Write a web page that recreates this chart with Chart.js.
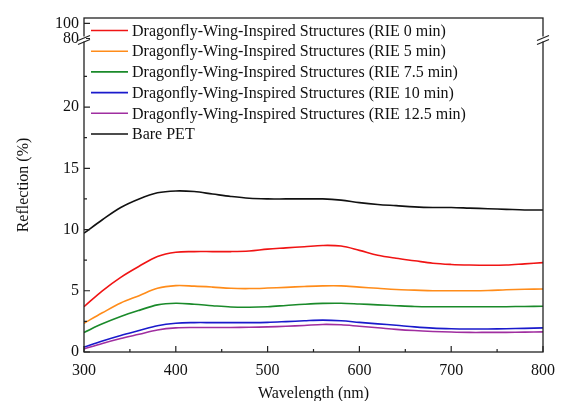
<!DOCTYPE html>
<html lang="en">
<head>
    <meta charset="UTF-8">
    <title>Reflection spectra</title>
    <script src="https://cdn.jsdelivr.net/npm/chart.js"></script>
    <style>
        html, body { margin: 0; padding: 0; background: #fff; }
        #wrap { width: 564px; height: 401px; }
    </style>
</head>
<body>
    <div id="wrap"><canvas id="myChart" width="564" height="401"></canvas></div>

    <script>
        // wavelength (nm)
        var wavelengths = [300, 320, 340, 360, 380, 400, 420, 440, 460, 480, 500, 520, 540,
                           560, 580, 600, 620, 640, 660, 680, 700, 720, 740, 760, 780, 800];

        var seriesNames = [
            'Dragonfly-Wing-Inspired Structures (RIE 0 min)',
            'Dragonfly-Wing-Inspired Structures (RIE 5 min)',
            'Dragonfly-Wing-Inspired Structures (RIE 7.5 min)',
            'Dragonfly-Wing-Inspired Structures (RIE 10 min)',
            'Dragonfly-Wing-Inspired Structures (RIE 12.5 min)',
            'Bare PET'
        ];
        var seriesColors = ['#f01414', '#ff8c1a', '#1a8a2a', '#1a1acc', '#a02ea0', '#111111'];

        // reflection (%)
        var rie0 = [3.7, 5.0, 6.1, 7.0, 7.8, 8.15, 8.2, 8.2, 8.2, 8.25, 8.4, 8.5, 8.6,
                    8.7, 8.65, 8.3, 7.9, 7.65, 7.45, 7.25, 7.15, 7.1, 7.08, 7.1, 7.2, 7.3];
        var rie5 = [2.35, 3.2, 4.0, 4.6, 5.2, 5.42, 5.38, 5.3, 5.2, 5.18, 5.22, 5.28, 5.35,
                    5.4, 5.4, 5.3, 5.2, 5.1, 5.05, 5.0, 5.0, 5.0, 5.02, 5.08, 5.12, 5.15];
        var rie75 = [1.6, 2.3, 2.9, 3.4, 3.85, 3.98, 3.9, 3.78, 3.68, 3.66, 3.7, 3.8, 3.9,
                     3.97, 3.98, 3.92, 3.85, 3.78, 3.72, 3.7, 3.7, 3.7, 3.7, 3.7, 3.72, 3.73];
        var rie10 = [0.4, 0.9, 1.35, 1.75, 2.15, 2.35, 2.4, 2.4, 2.4, 2.4, 2.42, 2.48, 2.55,
                     2.6, 2.55, 2.42, 2.3, 2.18, 2.05, 1.95, 1.9, 1.88, 1.88, 1.9, 1.93, 1.97];
        var rie125 = [0.25, 0.7, 1.1, 1.45, 1.8, 1.97, 2.0, 2.0, 2.0, 2.02, 2.05, 2.1, 2.17,
                      2.25, 2.22, 2.1, 1.98, 1.85, 1.75, 1.68, 1.63, 1.6, 1.6, 1.6, 1.62, 1.64];
        var barePet = [9.7, 10.8, 11.8, 12.5, 13.0, 13.15, 13.1, 12.9, 12.7, 12.55, 12.5, 12.5, 12.5,
                       12.5, 12.4, 12.2, 12.05, 11.95, 11.85, 11.8, 11.8, 11.75, 11.7, 11.65, 11.6, 11.6];

        var xTicks = [300, 400, 500, 600, 700, 800];
        var xMinorTicks = [350, 450, 550, 650, 750];
        var yTicks = [0, 5, 10, 15, 20, 80, 100];
        var yMinorTicks = [2.5, 7.5, 12.5, 17.5, 22.5];

        // broken y axis: 0..25.6 linear, then jumps to 80 and is squeezed above
        var breakLow = 25.6, breakHigh = 80, squeeze = 0.062;
        function brokenY(v) {
            return v <= breakLow ? v : breakLow + (v - breakHigh) * squeeze;
        }

        var allSeries = [rie0, rie5, rie75, rie10, rie125, barePet];
        var serif = "'Liberation Serif', 'DejaVu Serif', serif";

        var datasets = allSeries.map(function (vals, i) {
            return {
                label: seriesNames[i],
                data: vals.map(function (v, j) { return { x: wavelengths[j], y: brokenY(v) }; }),
                borderColor: seriesColors[i],
                backgroundColor: seriesColors[i],
                borderWidth: 1.6,
                pointRadius: 0,
                tension: 0.35,
                fill: false
            };
        });

        // frame, inward ticks, axis breaks and legend
        var decorations = {
            id: 'decorations',
            afterDraw: function (chart) {
                var ctx = chart.ctx;
                var a = chart.chartArea;
                var xs = chart.scales.x, ys = chart.scales.y;
                ctx.save();
                ctx.strokeStyle = '#222';
                ctx.lineWidth = 1.3;
                ctx.strokeRect(a.left, a.top, a.right - a.left, a.bottom - a.top);

                ctx.lineWidth = 1.2;
                ctx.beginPath();
                xTicks.forEach(function (v) {
                    var px = xs.getPixelForValue(v);
                    ctx.moveTo(px, a.bottom); ctx.lineTo(px, a.bottom - 6);
                });
                xMinorTicks.forEach(function (v) {
                    var px = xs.getPixelForValue(v);
                    ctx.moveTo(px, a.bottom); ctx.lineTo(px, a.bottom - 3);
                });
                yTicks.forEach(function (v) {
                    var py = ys.getPixelForValue(brokenY(v));
                    ctx.moveTo(a.left, py); ctx.lineTo(a.left + 6, py);
                });
                yMinorTicks.forEach(function (v) {
                    var py = ys.getPixelForValue(brokenY(v));
                    ctx.moveTo(a.left, py); ctx.lineTo(a.left + 3, py);
                });
                ctx.stroke();

                // break marks on both vertical edges
                var by = ys.getPixelForValue(breakLow) + 1;
                [a.left, a.right].forEach(function (ex) {
                    ctx.fillStyle = '#fff';
                    ctx.fillRect(ex - 2, by - 3, 4, 5);
                    ctx.beginPath();
                    ctx.moveTo(ex - 6, by + 1); ctx.lineTo(ex + 6, by - 4);
                    ctx.moveTo(ex - 6, by + 5); ctx.lineTo(ex + 6, by);
                    ctx.strokeStyle = '#222';
                    ctx.lineWidth = 1.2;
                    ctx.stroke();
                });

                // legend
                ctx.font = '16px ' + serif;
                ctx.textBaseline = 'middle';
                ctx.fillStyle = '#111';
                chart.data.datasets.forEach(function (ds, i) {
                    var y = a.top + 12.5 + i * 20.7;
                    ctx.beginPath();
                    ctx.moveTo(a.left + 7, y); ctx.lineTo(a.left + 44, y);
                    ctx.strokeStyle = ds.borderColor;
                    ctx.lineWidth = 1.6;
                    ctx.stroke();
                    ctx.fillText(ds.label, a.left + 48, y + 1);
                });
                ctx.restore();
            }
        };

        var ctx = document.getElementById('myChart').getContext('2d');
        new Chart(ctx, {
            type: 'line',
            data: { datasets: datasets },
            plugins: [decorations],
            options: {
                responsive: false,
                animation: false,
                layout: { padding: { top: 18, right: 21, left: 0, bottom: 0 } },
                plugins: { legend: { display: false }, tooltip: { enabled: false } },
                scales: {
                    x: {
                        type: 'linear',
                        min: 300,
                        max: 800,
                        afterBuildTicks: function (scale) {
                            scale.ticks = xTicks.map(function (v) { return { value: v }; });
                        },
                        afterFit: function (scale) { scale.height = 49; },
                        grid: { display: false, drawTicks: false },
                        border: { display: false },
                        ticks: {
                            font: { family: serif, size: 16 },
                            color: '#111',
                            padding: 9,
                            maxRotation: 0
                        },
                        title: {
                            display: true,
                            text: 'Wavelength (nm)',
                            font: { family: serif, size: 16 },
                            color: '#111',
                            padding: { top: 0, bottom: -2 }
                        }
                    },
                    y: {
                        type: 'linear',
                        min: 0,
                        max: brokenY(107),
                        afterBuildTicks: function (scale) {
                            scale.ticks = yTicks.map(function (v) { return { value: brokenY(v) }; });
                        },
                        afterFit: function (scale) { scale.width = 84; },
                        grid: { display: false, drawTicks: false },
                        border: { display: false },
                        ticks: {
                            font: { family: serif, size: 16 },
                            color: '#111',
                            padding: 5,
                            callback: function (value, index) { return String(yTicks[index]); }
                        },
                        title: {
                            display: true,
                            text: 'Reflection (%)',
                            font: { family: serif, size: 16 },
                            color: '#111',
                            padding: { top: 14, bottom: 0 }
                        }
                    }
                }
            }
        });
    </script>
</body>
</html>
